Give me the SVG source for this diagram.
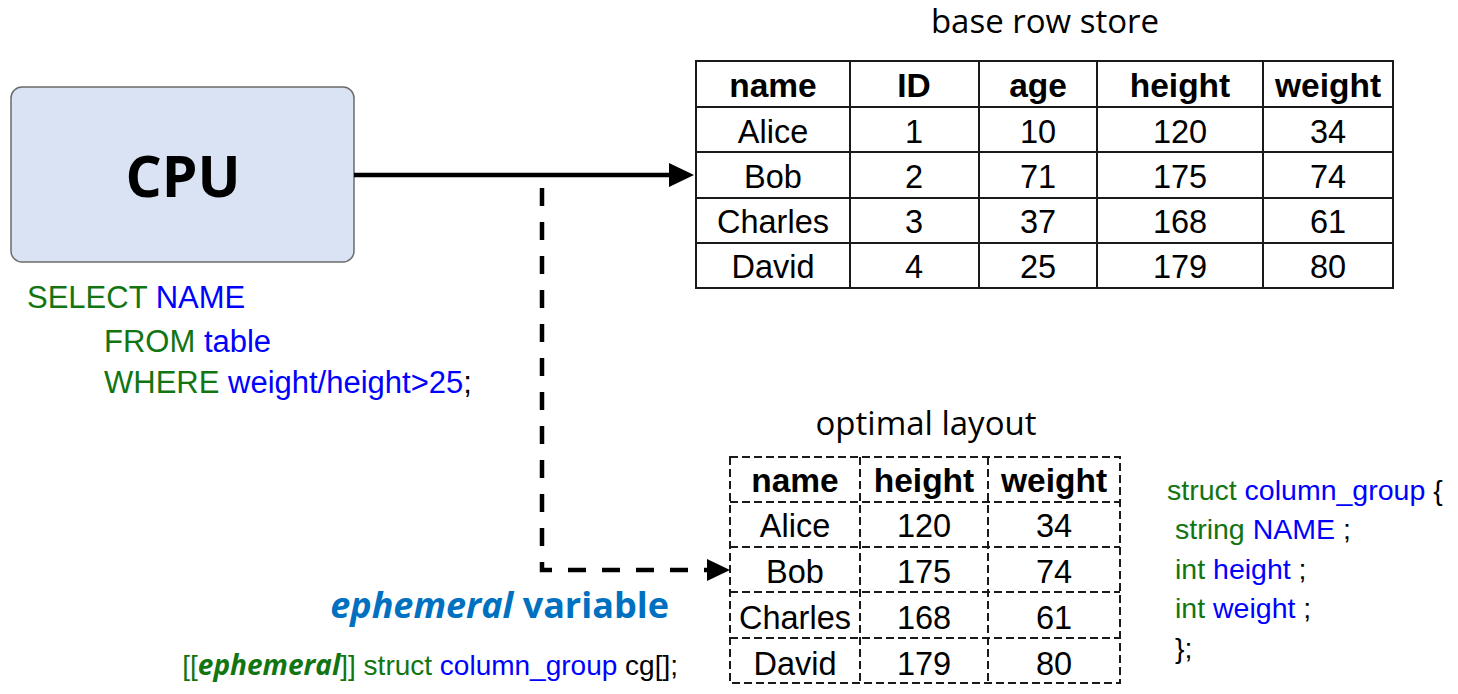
<svg xmlns="http://www.w3.org/2000/svg" width="1458" height="694" viewBox="0 0 1458 694">
  <style>
    .sans { font-family: "Liberation Sans", Arial, sans-serif; }
    .ui { font-family: "Open Sans", "Noto Sans", sans-serif; }
    .kw { fill: #127512; }
    .id { fill: #0000ff; }
    .pn { fill: #000000; }
    .cell { font-family: "Liberation Sans", Arial, sans-serif; font-size: 32.5px; fill: #000; text-anchor: middle; }
    .head { font-weight: bold; font-size: 33.5px; }
    .grid { stroke: #1a1a1a; stroke-width: 2; fill: none; }
    .dgrid { stroke: #1a1a1a; stroke-width: 2; fill: none; stroke-dasharray: 8 4; }
    .wire { stroke: #000; stroke-width: 4.5; fill: none; }
    .wire-dash { stroke: #000; stroke-width: 4.5; fill: none; stroke-dasharray: 18 16; }
  </style>

  <!-- CPU node -->
  <g id="cpu">
    <rect x="11" y="87" width="343" height="175" rx="11" ry="11" fill="#dae3f3" stroke="#6b6b6b" stroke-width="1.5"/>
    <text x="183" y="197" class="ui" font-size="57" font-weight="bold" text-anchor="middle" fill="#000">CPU</text>
  </g>

  <!-- query issued by the CPU -->
  <g id="query" class="sans" font-size="31">
    <text x="27" y="308"><tspan class="kw">SELECT </tspan><tspan class="id">NAME</tspan></text>
    <text x="104" y="352"><tspan class="kw">FROM </tspan><tspan class="id">table</tspan></text>
    <text x="104" y="393"><tspan class="kw">WHERE </tspan><tspan class="id">weight/height&gt;25</tspan><tspan class="pn">;</tspan></text>
  </g>

  <!-- row-oriented base table -->
  <g id="base-row-store">
    <text x="1045" y="33" class="ui" font-size="33" text-anchor="middle" fill="#000">base row store</text>
    <rect x="696" y="61" width="697" height="227" class="grid"/>
    <path class="grid" d="M850,61V288M979,61V288M1097,61V288M1263,61V288M696,107H1393M696,152H1393M696,198H1393M696,243H1393"/>
    <g class="cell head">
      <text x="773" y="97">name</text>
      <text x="914" y="97">ID</text>
      <text x="1038" y="97">age</text>
      <text x="1180" y="97">height</text>
      <text x="1328" y="97">weight</text>
    </g>
    <g class="cell">
      <text x="773" y="143">Alice</text><text x="914" y="143">1</text><text x="1038" y="143">10</text><text x="1180" y="143">120</text><text x="1328" y="143">34</text>
      <text x="773" y="188">Bob</text><text x="914" y="188">2</text><text x="1038" y="188">71</text><text x="1180" y="188">175</text><text x="1328" y="188">74</text>
      <text x="773" y="233">Charles</text><text x="914" y="233">3</text><text x="1038" y="233">37</text><text x="1180" y="233">168</text><text x="1328" y="233">61</text>
      <text x="773" y="278">David</text><text x="914" y="278">4</text><text x="1038" y="278">25</text><text x="1180" y="278">179</text><text x="1328" y="278">80</text>
    </g>
  </g>

  <!-- column-group table built on the fly -->
  <g id="optimal-layout">
    <text x="926" y="435" class="ui" font-size="33" text-anchor="middle" fill="#000">optimal layout</text>
    <rect x="730" y="457" width="390" height="226" class="dgrid"/>
    <path class="dgrid" d="M860,457V683M988,457V683M730,502H1120M730,547H1120M730,592H1120M730,638H1120"/>
    <g class="cell head">
      <text x="795" y="492">name</text>
      <text x="924" y="492">height</text>
      <text x="1054" y="492">weight</text>
    </g>
    <g class="cell">
      <text x="795" y="537">Alice</text><text x="924" y="537">120</text><text x="1054" y="537">34</text>
      <text x="795" y="583">Bob</text><text x="924" y="583">175</text><text x="1054" y="583">74</text>
      <text x="795" y="629">Charles</text><text x="924" y="629">168</text><text x="1054" y="629">61</text>
      <text x="795" y="675">David</text><text x="924" y="675">179</text><text x="1054" y="675">80</text>
    </g>
  </g>

  <!-- struct declaration -->
  <g id="struct-decl" class="sans" font-size="28.5">
    <text x="1167" y="500"><tspan class="kw">struct </tspan><tspan class="id">column_group</tspan><tspan class="pn"> {</tspan></text>
    <text x="1175" y="539"><tspan class="kw">string </tspan><tspan class="id">NAME</tspan><tspan class="pn"> ;</tspan></text>
    <text x="1175" y="579"><tspan class="kw">int </tspan><tspan class="id">height</tspan><tspan class="pn"> ;</tspan></text>
    <text x="1175" y="618"><tspan class="kw">int </tspan><tspan class="id">weight</tspan><tspan class="pn"> ;</tspan></text>
    <text x="1175" y="658" class="pn">};</text>
  </g>

  <!-- ephemeral variable label and declaration -->
  <g id="ephemeral">
    <text x="669" y="618" class="ui" font-size="36" font-weight="bold" fill="#0070c0" text-anchor="end"><tspan font-style="italic">ephemeral</tspan> variable</text>
    <text x="678" y="675" class="sans" font-size="28" text-anchor="end"><tspan class="kw">[[</tspan><tspan class="kw ui" font-weight="bold" font-style="italic">ephemeral</tspan><tspan class="kw">]] struct </tspan><tspan class="id">column_group</tspan><tspan class="pn"> cg[];</tspan></text>
  </g>

  <!-- connectors -->
  <g id="connectors">
    <line x1="354" y1="175" x2="672" y2="175" class="wire"/>
    <polygon points="694,175 669,163 669,187" fill="#000"/>
    <path d="M542,188V570H709" class="wire-dash"/>
    <polygon points="730,570 707,559 707,581" fill="#000"/>
  </g>
</svg>
